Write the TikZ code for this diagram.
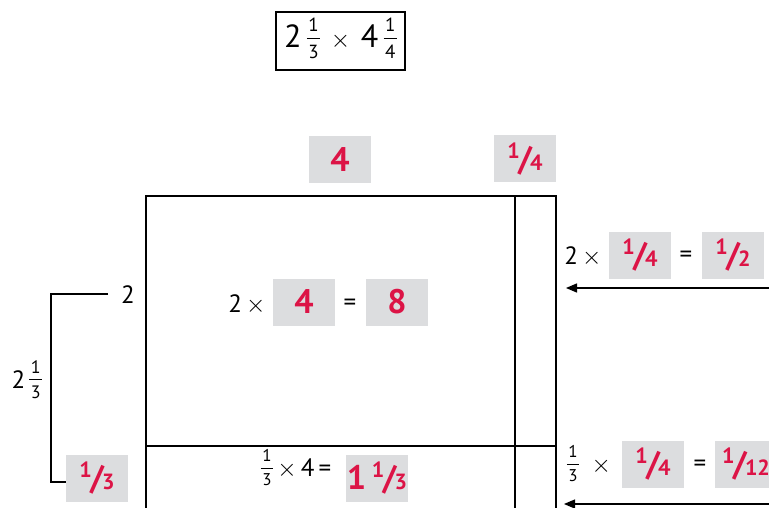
\documentclass[tikz,border=0pt]{standalone}
\usepackage{fontspec}
\setmainfont{PT Sans}
\usetikzlibrary{arrows.meta}
\definecolor{hl}{HTML}{DC1446}
\definecolor{boxg}{HTML}{DCDDDF}
\newcommand{\rfr}[2]{\raisebox{0.34em}{\fontsize{22}{22}\selectfont\bfseries #1}\kern-0.05em{\fontsize{34}{34}\selectfont\bfseries /}\kern-0.05em{\fontsize{22}{22}\selectfont\bfseries #2}}
\newcommand{\sfr}[3]{\ensuremath{\vcenter{\hbox{\fontsize{#1}{#1}\selectfont\setlength{\arrayrulewidth}{1pt}\renewcommand{\arraystretch}{0.95}\begin{tabular}{@{\hspace{1.5pt}}c@{\hspace{1.5pt}}}#2\\[1pt]\hline\rule{0pt}{1.0em}#3\end{tabular}}}}}
\tikzset{
  gbox/.style={fill=boxg, minimum width=62pt, minimum height=47pt, inner sep=0pt, text=hl, font=\fontsize{34}{34}\selectfont\bfseries},
  lbl/.style={inner sep=0pt, font=\fontsize{25}{25}\selectfont},
  frame/.style={line width=2.4pt},
  thin/.style={line width=1.3pt},
  arr/.style={line width=1.3pt, -{Triangle[length=11pt,width=9pt]}}
}
\begin{document}
\begin{tikzpicture}[x=1pt,y=-1pt]
\clip (0,0) rectangle (769,508);
\useasboundingbox (0,0) rectangle (769,508);
% top expression
\node[draw, line width=2pt, minimum width=129pt, minimum height=58pt, inner sep=0pt, font=\fontsize{32}{32}\selectfont] (expr) at (340.5,41) {2\,\sfr{19}{1}{3}\,\,$\times$\,\,4\,\sfr{19}{1}{4}};
% column headers
\node[gbox] (h4) at (340,160) {4};
\node[gbox] (hq) at (525,159) {\rfr{1}{4}};
% rectangle
\coordinate (tl) at (146,196);
\coordinate (tr) at (556,196);
\coordinate (bl) at (146,520);
\coordinate (br) at (556,520);
\coordinate (mt) at (515,196);
\coordinate (mb) at (515,520);
\coordinate (hl) at (146,446);
\coordinate (hr) at (556,446);
\draw[frame] (bl) -- (tl) -- (tr) -- (br);
\draw[frame] (mt) -- (mb);
\draw[frame] (hl) -- (hr);
% left bracket
\node[lbl] (two) at (128,295) {2};
\node[lbl, anchor=center] (twothird) at (27,382) {2\,\sfr{18}{1}{3}};
\node[gbox] (third) at (97,478) {\rfr{1}{3}};
\coordinate (b1) at (108,294);
\coordinate (b2) at (51,294);
\coordinate (b3) at (51,482);
\coordinate (b4) at (66,482);
\draw[thin] (b1) -- (b2) -- (b3) -- (b4);
% centre
\node[lbl] (c2x) at (247,305) {2\,$\times$};
\node[gbox] (c4) at (304,302) {4};
\node[lbl] (ceq) at (350,305) {=};
\node[gbox] (c8) at (397,302) {8};
% bottom centre
\node[lbl] (bexp) at (296,470) {\sfr{17}{1}{3}\,$\times$\,4\,=};
\node[gbox] (b113) at (377,478) {1\,\rfr{1}{3}};
% right upper
\node[lbl] (r2x) at (583,257) {2\,$\times$};
\node[gbox] (rq1) at (640,255) {\rfr{1}{4}};
\node[lbl] (req1) at (686,257) {=};
\node[gbox] (rh) at (733,255) {\rfr{1}{2}};
\coordinate (a1s) at (769,288);
\coordinate (a1e) at (566,288);
\draw[arr] (a1s) -- (a1e);
% right lower
\node[lbl] (r3x) at (589,466) {\sfr{17}{1}{3}\,\,\,$\times$};
\node[gbox] (rq2) at (653,464) {\rfr{1}{4}};
\node[lbl] (req2) at (700,466) {=};
\node[gbox] (r12) at (746,464) {\rfr{1}{12}};
\coordinate (a2s) at (769,504);
\coordinate (a2e) at (564,504);
\draw[arr] (a2s) -- (a2e);
\end{tikzpicture}
\end{document}
